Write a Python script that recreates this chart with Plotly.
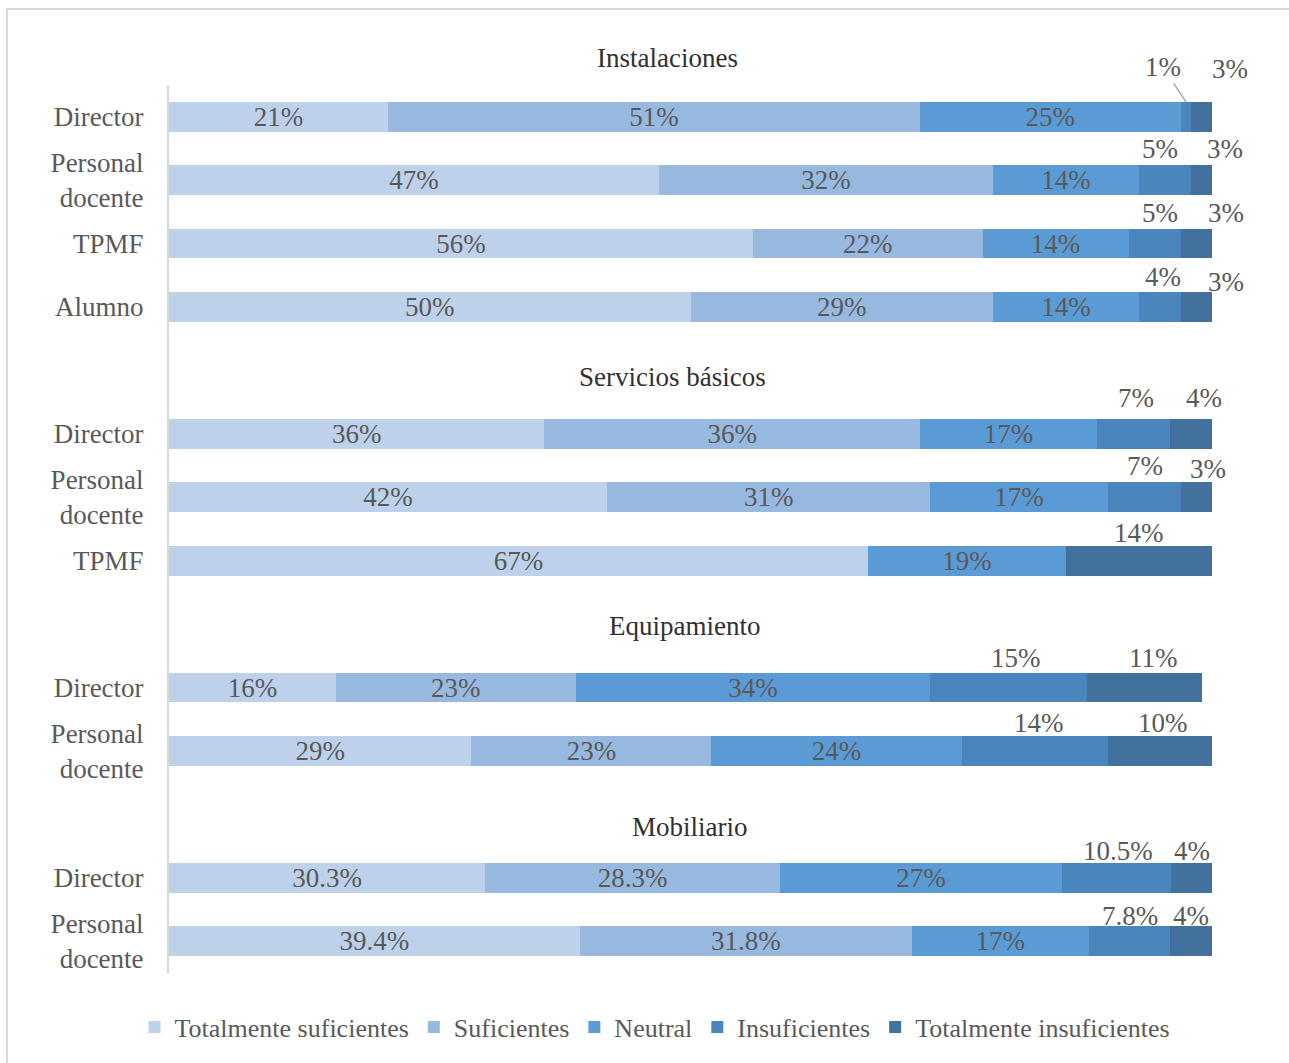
import plotly.graph_objects as go

# ---------------- data ----------------
groups = ["Instalaciones", "Servicios básicos", "Equipamiento", "Mobiliario"]
group_rows = [
    ["Director", "Personal docente", "TPMF", "Alumno"],
    ["Director", "Personal docente", "TPMF"],
    ["Director", "Personal docente"],
    ["Director", "Personal docente"],
]
series_names = ["Totalmente suficientes", "Suficientes", "Neutral",
                "Insuficientes", "Totalmente insuficientes"]

# one value per row, rows listed group by group (top to bottom)
totalmente_suficientes = [21, 47, 56, 50, 36, 42, 67, 16, 29, 30.3, 39.4]
suficientes = [51, 32, 22, 29, 36, 31, None, 23, 23, 28.3, 31.8]
neutral = [25, 14, 14, 14, 17, 17, 19, 34, 24, 27, 17]
insuficientes = [1, 5, 5, 4, 7, 7, None, 15, 14, 10.5, 7.8]
totalmente_insuficientes = [3, 3, 3, 3, 4, 3, 14, 11, 10, 4, 4]

series_values = [totalmente_suficientes, suficientes, neutral,
                 insuficientes, totalmente_insuficientes]

# ---------------- styles ----------------
colors = ["#bdd1ea", "#97b8df", "#5b9bd5", "#4a86bd", "#41719c"]
FONT = "Liberation Serif"
LABEL_COLOR = "#595959"
TITLE_COLOR = "#303030"
FS = 27
LEGEND_FS = 26
BAR_W = 0.47

# row positions on the category axis: a blank slot between groups
positions, ticktext = [], []
slot = 0
for gi, rows in enumerate(group_rows):
    if gi > 0:
        slot += 1
    for r in rows:
        positions.append(slot)
        ticktext.append(r.replace("Personal docente", "Personal<br>docente"))
        slot += 1
n_slots = slot

def fmt(v):
    return "" if v is None else f"{v:g}%"

fig = go.Figure()
for si, (name, vals) in enumerate(zip(series_names, series_values)):
    inside = si < 3
    fig.add_trace(go.Bar(
        name=name,
        y=positions,
        x=[0 if v is None else v for v in vals],
        orientation="h",
        width=BAR_W,
        marker=dict(color=colors[si], line=dict(width=0)),
        text=[fmt(v) for v in vals] if inside else None,
        textposition="inside" if inside else "none",
        insidetextanchor="middle",
        constraintext="none",
        textfont=dict(family=FONT, size=FS, color=LABEL_COLOR),
        hoverinfo="skip",
    ))

# labels above the bar for the last two series (pixel nudges)
label_nudge = {
    # row index: ((dx, dy) for Insuficientes, (dx, dy) for Totalmente insuf.)
    0: (None, (23, 48)),
    1: ((-5, 31), (18, 31)),
    2: ((5, 31), (30, 31)),
    3: ((3, 30), (30, 25)),
    4: ((2, 36), (13, 36)),
    5: ((1, 31), (12, 28)),
    6: (None, (0, 28)),
    7: ((7, 30), (9, 30)),
    8: ((4, 28), (3, 28)),
    9: ((1, 27), (0, 27)),
    10: ((0, 25), (0, 25)),
}

annotations = []
for ri in range(len(positions)):
    base = sum((series_values[k][ri] or 0) for k in range(3))
    for k, si in enumerate((3, 4)):
        v = series_values[si][ri]
        if v is None:
            continue
        cx = min(base + v / 2, 100)
        nud = label_nudge[ri][k]
        if nud is None:
            # leader line label
            annotations.append(dict(
                x=cx, y=positions[ri] - BAR_W / 2, xref="x", yref="y",
                text=fmt(v), showarrow=True, arrowhead=0, arrowwidth=1.5,
                arrowcolor="#a6a6a6", ax=-23, ay=-35, standoff=0,
                font=dict(family=FONT, size=FS, color=LABEL_COLOR)))
        else:
            annotations.append(dict(
                x=cx, y=positions[ri], xref="x", yref="y",
                text=fmt(v), showarrow=False, xshift=nud[0], yshift=nud[1],
                xanchor="center", yanchor="middle",
                font=dict(family=FONT, size=FS, color=LABEL_COLOR)))
        base += v

# section titles
title_pos = [(0.4775, 1.0304), (0.4823, 0.6712), (0.4938, 0.3908), (0.4995, 0.1644)]
for g, (tx, ty) in zip(groups, title_pos):
    annotations.append(dict(
        x=tx, y=ty, xref="paper", yref="paper", text=g, showarrow=False,
        xanchor="center", yanchor="middle",
        font=dict(family=FONT, size=FS, color=TITLE_COLOR)))

fig.update_layout(
    width=1289, height=1063,
    margin=dict(l=169, r=77, t=85, b=90),
    barmode="stack",
    paper_bgcolor="white", plot_bgcolor="white",
    font=dict(family=FONT, size=FS, color=LABEL_COLOR),
    xaxis=dict(range=[0, 100], visible=False, fixedrange=True),
    yaxis=dict(
        range=[n_slots - 0.5, -0.5], tickmode="array",
        tickvals=positions, ticktext=ticktext,
        showline=True, linecolor="#d9d9d9", linewidth=2,
        showgrid=False, zeroline=False, ticks="", ticklabelstandoff=18,
        tickfont=dict(family=FONT, size=FS, color=LABEL_COLOR),
    ),
    legend=dict(
        orientation="h", x=0.466, xanchor="center", y=-0.061, yanchor="middle",
        font=dict(family=FONT, size=LEGEND_FS, color=LABEL_COLOR),
        traceorder="normal", itemclick=False,
    ),
    annotations=annotations,
    shapes=[dict(type="rect", xref="paper", yref="paper",
                 x0=-0.1553, x1=1.2, y0=-0.12, y1=1.0856,
                 line=dict(color="#d9d9d9", width=2), fillcolor="rgba(0,0,0,0)",
                 layer="below")],
)

fig.write_html("out.html")
